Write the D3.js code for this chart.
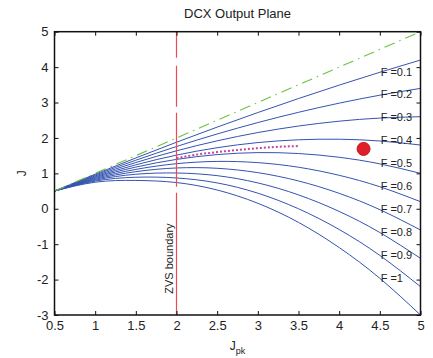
<!DOCTYPE html>
<html>
<head>
<meta charset="utf-8">
<script src="https://cdn.jsdelivr.net/npm/d3@7"></script>
<style>
  html, body { margin: 0; padding: 0; background: #fff; }
  svg { display: block; font-family: "Liberation Sans", Arial, sans-serif; }
</style>
</head>
<body>
<svg id="chart" width="433" height="358"></svg>
<script>
// Normalised peak current sample points
const jpk = [0.5, 1, 1.5, 2, 2.5, 3, 3.5, 4, 4.5, 5];

// Output current J for each load factor F, sampled at jpk
const fValues = [0.1, 0.2, 0.3, 0.4, 0.5, 0.6, 0.7, 0.8, 0.9, 1];
const jF01 = [0.5, 0.976, 1.435, 1.879, 2.306, 2.717, 3.112, 3.491, 3.854, 4.2];
const jF02 = [0.5, 0.952, 1.371, 1.758, 2.112, 2.434, 2.724, 2.982, 3.207, 3.4];
const jF03 = [0.5, 0.927, 1.306, 1.636, 1.918, 2.152, 2.336, 2.473, 2.561, 2.6];
const jF04 = [0.5, 0.903, 1.241, 1.515, 1.724, 1.869, 1.948, 1.964, 1.914, 1.8];
const jF05 = [0.5, 0.879, 1.177, 1.394, 1.530, 1.586, 1.560, 1.454, 1.268, 1.0];
const jF06 = [0.5, 0.855, 1.112, 1.273, 1.337, 1.303, 1.173, 0.945, 0.622, 0.2];
const jF07 = [0.5, 0.830, 1.048, 1.152, 1.143, 1.020, 0.785, 0.436, -0.025, -0.6];
const jF08 = [0.5, 0.806, 0.975, 1.010, 0.935, 0.730, 0.392, -0.075, -0.671, -1.4];
const jF09 = [0.5, 0.782, 0.890, 0.870, 0.730, 0.440, 0.000, -0.585, -1.318, -2.2];
const jF10 = [0.5, 0.750, 0.800, 0.740, 0.530, 0.155, -0.385, -1.095, -1.964, -3.0];
const curves = [jF01, jF02, jF03, jF04, jF05, jF06, jF07, jF08, jF09, jF10];

// No-load limit J = Jpk
const limitX = [0.5, 5];
const limitY = [0.5, 5];

// ZVS boundary position and operating trace
const zvsBoundary = 2;
const traceX = [2, 2.25, 2.5, 2.75, 3, 3.25, 3.5];
const traceY = [1.43, 1.53, 1.60, 1.66, 1.71, 1.75, 1.77];

// Operating point
const opPoint = { x: 4.3, y: 1.69 };

// Curve labels
const labelText = ["F =0.1", "F =0.2", "F =0.3", "F =0.4", "F =0.5", "F =0.6", "F =0.7", "F =0.8", "F =0.9", "F =1"];
const labelX = 4.51;
const labelY = [3.85, 3.25, 2.6, 1.95, 1.3, 0.65, 0, -0.65, -1.3, -1.95];

// Tick values
const xTicks = [0.5, 1, 1.5, 2, 2.5, 3, 3.5, 4, 4.5, 5];
const yTicks = [-3, -2, -1, 0, 1, 2, 3, 4, 5];

const svg = d3.select("#chart");
const margin = { left: 54.5, right: 12.5, top: 31.7, bottom: 43 };
const W = 433, H = 358;
const x = d3.scaleLinear().domain([0.5, 5]).range([margin.left, W - margin.right]);
const y = d3.scaleLinear().domain([-3, 5]).range([H - margin.bottom, margin.top]);

svg.append("rect").attr("width", W).attr("height", H).attr("fill", "#fff");

const plot = svg.append("g");
const line = d3.line().curve(d3.curveNatural);

// Family of curves
curves.forEach((vals) => {
  plot.append("path")
    .attr("d", line(jpk.map((v, i) => [x(v), y(vals[i])])))
    .attr("fill", "none")
    .attr("stroke", "#3553b0")
    .attr("stroke-width", 1);
});

// No-load limit (dash-dot)
plot.append("path")
  .attr("d", d3.line()(limitX.map((v, i) => [x(v), y(limitY[i])])))
  .attr("fill", "none")
  .attr("stroke", "#6cc440")
  .attr("stroke-width", 1.1)
  .attr("stroke-dasharray", "11,5,1.5,5");

// ZVS boundary (dashed)
plot.append("line")
  .attr("x1", x(zvsBoundary)).attr("x2", x(zvsBoundary))
  .attr("y1", y(5)).attr("y2", y(-3))
  .attr("stroke", "#ee4a55")
  .attr("stroke-width", 1.2)
  .attr("stroke-dasharray", "26,8,41,6,74,6,200");

// Operating trace (dotted)
plot.append("path")
  .attr("d", d3.line().curve(d3.curveMonotoneX)(traceX.map((v, i) => [x(v), y(traceY[i])])))
  .attr("fill", "none")
  .attr("stroke", "#c0479c")
  .attr("stroke-width", 2)
  .attr("stroke-dasharray", "2,2");

// Operating point
plot.append("circle")
  .attr("cx", x(opPoint.x)).attr("cy", y(opPoint.y))
  .attr("r", 6.5)
  .attr("fill", "#e02028")
  .attr("stroke", "#c4161e")
  .attr("stroke-width", 1);

// Curve labels
labelText.forEach((t, i) => {
  svg.append("text")
    .attr("x", x(labelX)).attr("y", y(labelY[i]))
    .attr("dy", "0.35em")
    .attr("font-size", 11)
    .attr("fill", "#222")
    .text(t);
});

svg.append("text")
  .attr("transform", `translate(${x(zvsBoundary) - 4},${y(-2.4)}) rotate(-90)`)
  .attr("font-size", 11)
  .attr("fill", "#222")
  .text("ZVS boundary");

// Axes with inward ticks, boxed
const tickLen = 4;
const axisColor = "#111";
const plain = d => String(d);
const ax = svg.append("g");
ax.append("rect")
  .attr("x", x(0.5)).attr("y", y(5))
  .attr("width", x(5) - x(0.5)).attr("height", y(-3) - y(5))
  .attr("fill", "none").attr("stroke", axisColor).attr("stroke-width", 1.5);

ax.append("g").attr("transform", `translate(0,${y(-3)})`)
  .call(d3.axisBottom(x).tickValues(xTicks).tickSizeInner(-tickLen).tickSizeOuter(0).tickPadding(6).tickFormat(plain))
  .call(g => g.select(".domain").remove());
ax.append("g").attr("transform", `translate(0,${y(5)})`)
  .call(d3.axisTop(x).tickValues(xTicks).tickSizeInner(-tickLen).tickSizeOuter(0).tickFormat(""))
  .call(g => g.select(".domain").remove());
ax.append("g").attr("transform", `translate(${x(0.5)},0)`)
  .call(d3.axisLeft(y).tickValues(yTicks).tickSizeInner(-tickLen).tickSizeOuter(0).tickPadding(6).tickFormat(plain))
  .call(g => g.select(".domain").remove());
ax.append("g").attr("transform", `translate(${x(5)},0)`)
  .call(d3.axisRight(y).tickValues(yTicks).tickSizeInner(-tickLen).tickSizeOuter(0).tickFormat(""))
  .call(g => g.select(".domain").remove());

ax.selectAll(".tick line").attr("stroke", axisColor);
ax.selectAll(".tick text")
  .attr("font-size", 13)
  .attr("fill", "#222")
  .attr("font-family", "Liberation Sans, Arial, sans-serif");

// Title and axis labels
svg.append("text")
  .attr("x", (x(0.5) + x(5)) / 2).attr("y", 18)
  .attr("text-anchor", "middle")
  .attr("font-size", 13)
  .attr("fill", "#222")
  .text("DCX Output Plane");

const xl = svg.append("text")
  .attr("x", (x(0.5) + x(5)) / 2).attr("y", 350)
  .attr("text-anchor", "middle")
  .attr("font-size", 12)
  .attr("fill", "#222");
xl.append("tspan").text("J");
xl.append("tspan").attr("font-size", 9).attr("dy", 4).text("pk");

svg.append("text")
  .attr("transform", `translate(26,${(y(-3) + y(5)) / 2}) rotate(-90)`)
  .attr("text-anchor", "middle")
  .attr("font-size", 12)
  .attr("fill", "#222")
  .text("J");
</script>
</body>
</html>
